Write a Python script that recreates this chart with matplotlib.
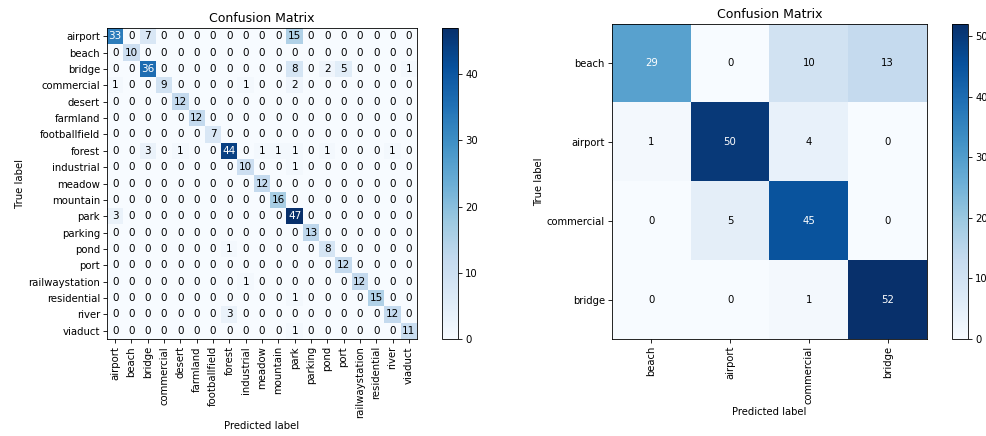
import numpy as np
import matplotlib
matplotlib.use("Agg")
import matplotlib.pyplot as plt

# left matrix: 19 scene classes
classes_a = ["airport", "beach", "bridge", "commercial", "desert", "farmland",
             "footballfield", "forest", "industrial", "meadow", "mountain", "park",
             "parking", "pond", "port", "railwaystation", "residential", "river",
             "viaduct"]
cm_a = np.array([
    [33, 0, 7, 0, 0, 0, 0, 0, 0, 0, 0, 15, 0, 0, 0, 0, 0, 0, 0],
    [0, 10, 0, 0, 0, 0, 0, 0, 0, 0, 0, 0, 0, 0, 0, 0, 0, 0, 0],
    [0, 0, 36, 0, 0, 0, 0, 0, 0, 0, 0, 8, 0, 2, 5, 0, 0, 0, 1],
    [1, 0, 0, 9, 0, 0, 0, 0, 1, 0, 0, 2, 0, 0, 0, 0, 0, 0, 0],
    [0, 0, 0, 0, 12, 0, 0, 0, 0, 0, 0, 0, 0, 0, 0, 0, 0, 0, 0],
    [0, 0, 0, 0, 0, 12, 0, 0, 0, 0, 0, 0, 0, 0, 0, 0, 0, 0, 0],
    [0, 0, 0, 0, 0, 0, 7, 0, 0, 0, 0, 0, 0, 0, 0, 0, 0, 0, 0],
    [0, 0, 3, 0, 1, 0, 0, 44, 0, 1, 1, 1, 0, 1, 0, 0, 0, 1, 0],
    [0, 0, 0, 0, 0, 0, 0, 0, 10, 0, 0, 1, 0, 0, 0, 0, 0, 0, 0],
    [0, 0, 0, 0, 0, 0, 0, 0, 0, 12, 0, 0, 0, 0, 0, 0, 0, 0, 0],
    [0, 0, 0, 0, 0, 0, 0, 0, 0, 0, 16, 0, 0, 0, 0, 0, 0, 0, 0],
    [3, 0, 0, 0, 0, 0, 0, 0, 0, 0, 0, 47, 0, 0, 0, 0, 0, 0, 0],
    [0, 0, 0, 0, 0, 0, 0, 0, 0, 0, 0, 0, 13, 0, 0, 0, 0, 0, 0],
    [0, 0, 0, 0, 0, 0, 0, 1, 0, 0, 0, 0, 0, 8, 0, 0, 0, 0, 0],
    [0, 0, 0, 0, 0, 0, 0, 0, 0, 0, 0, 0, 0, 0, 12, 0, 0, 0, 0],
    [0, 0, 0, 0, 0, 0, 0, 0, 1, 0, 0, 0, 0, 0, 0, 12, 0, 0, 0],
    [0, 0, 0, 0, 0, 0, 0, 0, 0, 0, 0, 1, 0, 0, 0, 0, 15, 0, 0],
    [0, 0, 0, 0, 0, 0, 0, 3, 0, 0, 0, 0, 0, 0, 0, 0, 0, 12, 0],
    [0, 0, 0, 0, 0, 0, 0, 0, 0, 0, 0, 1, 0, 0, 0, 0, 0, 0, 11],
])

# right matrix: 4 classes
classes_b = ["beach", "airport", "commercial", "bridge"]
cm_b = np.array([
    [29, 0, 10, 13],
    [1, 50, 4, 0],
    [0, 5, 45, 0],
    [0, 0, 1, 52],
])

W, H = 986, 436
fig = plt.figure(figsize=(W / 100, H / 100), dpi=100)


def px(x0, y0, x1, y1):
    # pixel box (top-left origin) -> figure fraction
    return [x0 / W, 1 - y1 / H, (x1 - x0) / W, (y1 - y0) / H]


def draw_cm(ax, cax, cm, labels, fs, tfs):
    im = ax.imshow(cm, cmap="Blues", interpolation="nearest", aspect="auto")
    thresh = (cm.max() + cm.min()) / 2
    for i in range(cm.shape[0]):
        for j in range(cm.shape[1]):
            ax.text(j, i, str(cm[i, j]), ha="center", va="center", fontsize=fs,
                    color="white" if cm[i, j] > thresh else "black")
    n = len(labels)
    ax.set_xticks(range(n))
    ax.set_yticks(range(n))
    ax.set_xticklabels(labels, rotation=90, fontsize=tfs)
    ax.set_yticklabels(labels, fontsize=tfs)
    ax.tick_params(length=2.6, width=0.6, pad=2.5)
    ax.set_xlabel("Predicted label", fontsize=tfs, labelpad=2)
    ax.set_ylabel("True label", fontsize=tfs, labelpad=2)
    ax.set_title("Confusion Matrix", fontsize=9, pad=4)
    for s in ax.spines.values():
        s.set_linewidth(0.6)
    cb = fig.colorbar(im, cax=cax)
    cb.ax.tick_params(labelsize=tfs, length=2.6, width=0.6, pad=2.5)
    cb.outline.set_linewidth(0.6)


ax1 = fig.add_axes(px(107, 28, 417, 339))
cax1 = fig.add_axes(px(442, 28, 458, 339))
draw_cm(ax1, cax1, cm_a, classes_a, 7.5, 7.3)

ax2 = fig.add_axes(px(612, 24, 927, 339))
cax2 = fig.add_axes(px(952, 24, 968, 339))
draw_cm(ax2, cax2, cm_b, classes_b, 7.3, 7.2)

fig.savefig("out.png", dpi=100)
